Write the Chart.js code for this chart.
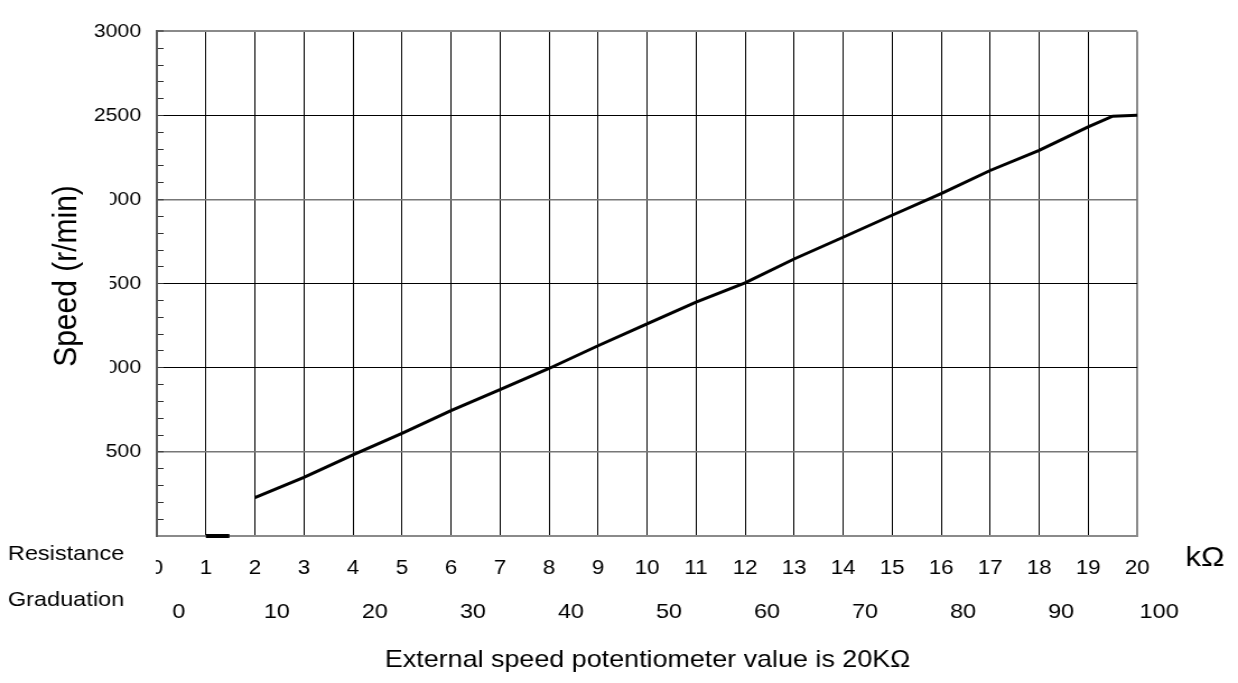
<!DOCTYPE html>
<html>
<head>
<meta charset="utf-8">
<script src="https://cdn.jsdelivr.net/npm/chart.js@4"></script>
<style>
  body { margin: 0; background: #fff; }
  #speed-chart { display: block; }
</style>
</head>
<body>
<!-- the scan is stretched sideways, so the canvas is drawn narrower and widened by CSS -->
<canvas id="speed-chart" width="1105" height="683" style="width:1238px;height:683px"></canvas>
<script>
// resistance (kΩ) -> speed (r/min)
const resistance = [2, 3, 4, 5, 6, 7, 8, 9, 10, 11, 12, 13, 14, 15, 16, 17, 18, 19, 19.5, 20];
const speed = [228, 349, 482, 610, 745, 870, 996, 1131, 1261, 1390, 1505, 1647, 1776, 1907, 2036, 2173, 2293, 2432, 2496, 2502];

// short stub lying on the axis below 2 kΩ
const stubResistance = [1, 1.48];
const stubSpeed = [0, 0];

const speedTicks = [500, 1000, 1500, 2000, 2500, 3000];
const graduationLabels = [0, 10, 20, 30, 40, 50, 60, 70, 80, 90, 100];

const yTitle = "Speed (r/min)";
const xTitle = "External speed potentiometer value is 20KΩ";
const FONT = '"Liberation Sans", Arial, sans-serif';

function toPoints(xs, ys) {
    return xs.map((x, i) => ({ x: x, y: ys[i] }));
}

const textPlugin = {
    id: "textPlugin",
    afterDraw(chart) {
        const ctx = chart.ctx;
        const xScale = chart.scales.x;
        ctx.save();

        // white box behind the y title, it hides the first digits of some tick labels
        ctx.fillStyle = "#fff";
        ctx.fillRect(40, 178, 58, 196);
        ctx.fillRect(124, 552, 15, 30);

        ctx.fillStyle = "#000";
        ctx.textBaseline = "middle";
        ctx.textAlign = "center";

        ctx.save();
        ctx.font = "30px " + FONT;
        ctx.translate(60, 276);
        ctx.rotate(-Math.PI / 2);
        ctx.fillText(yTitle, 0, 0);
        ctx.restore();

        ctx.textAlign = "left";
        ctx.textBaseline = "alphabetic";
        ctx.font = "21px " + FONT;
        ctx.fillText("Resistance", 7, 560);
        ctx.fillText("Graduation", 7, 606);

        ctx.font = "28px " + FONT;
        ctx.textBaseline = "middle";
        ctx.fillText("kΩ", 1058, 558);

        ctx.textAlign = "center";
        ctx.font = "21px " + FONT;
        graduationLabels.forEach(g => {
            ctx.fillText(String(g), xScale.getPixelForValue(g / 5) + 19.6, 612);
        });

        ctx.font = "24px " + FONT;
        ctx.fillText(xTitle, 578, 660);

        ctx.restore();
    }
};

new Chart(document.getElementById("speed-chart").getContext("2d"), {
    type: "line",
    data: {
        datasets: [{
            data: toPoints(resistance, speed),
            borderColor: "#000",
            borderWidth: 3,
            pointRadius: 0,
            tension: 0,
            fill: false
        }, {
            data: toPoints(stubResistance, stubSpeed),
            borderColor: "#000",
            borderWidth: 4,
            pointRadius: 0,
            clip: false,
            fill: false
        }]
    },
    options: {
        responsive: false,
        devicePixelRatio: 1,
        animation: false,
        layout: { padding: { left: 0, right: 90, top: 6, bottom: 0 } },
        plugins: {
            legend: { display: false },
            tooltip: { enabled: false }
        },
        scales: {
            x: {
                type: "linear",
                min: 0,
                max: 20,
                afterFit: scale => { scale.height = 147; },
                ticks: {
                    stepSize: 1,
                    autoSkip: false,
                    maxRotation: 0,
                    padding: 20,
                    color: "#000",
                    font: { family: FONT, size: 20 }
                },
                grid: {
                    drawTicks: false,
                    color: ctx => ctx.tick.value === 0 ? "rgba(0,0,0,0)" : (ctx.tick.value === 20 ? "#8a8a8a" : "#000"),
                    lineWidth: ctx => ctx.tick.value === 20 ? 2 : 1
                },
                border: { color: "#8a8a8a", width: 2 }
            },
            y: {
                min: 0,
                max: 3000,
                afterFit: scale => { scale.width = 140; },
                ticks: {
                    stepSize: 100,
                    autoSkip: false,
                    padding: 20,
                    color: "#000",
                    font: { family: FONT, size: 19 },
                    callback: v => speedTicks.includes(v) ? String(v) : ""
                },
                grid: {
                    drawTicks: true,
                    tickLength: -6,
                    tickColor: "#333",
                    tickWidth: 1,
                    color: ctx => {
                        const v = ctx.tick.value;
                        if (!speedTicks.includes(v)) return "rgba(0,0,0,0)";
                        if (v === 3000) return "#8a8a8a";
                        if (v === 500 || v === 2000) return "#777";
                        return "#000";
                    },
                    lineWidth: ctx => ctx.tick.value === 3000 ? 2 : (ctx.tick.value === 500 || ctx.tick.value === 2000 ? 1.5 : 1)
                },
                border: { color: "#5a5a5a", width: 2 }
            }
        }
    },
    plugins: [textPlugin]
});
</script>
</body>
</html>
